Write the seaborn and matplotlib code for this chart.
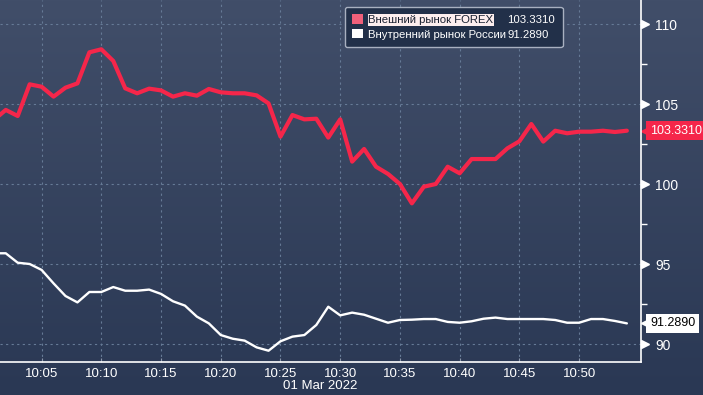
import numpy as np
import pandas as pd
import matplotlib
matplotlib.use('Agg')
import matplotlib.pyplot as plt
import matplotlib.dates as mdates
import matplotlib.transforms as mtransforms
from matplotlib.patches import Rectangle
from matplotlib.colors import LinearSegmentedColormap
import seaborn as sns

# minute stamps 10:01 .. 10:54, 01 Mar 2022
minutes = list(range(1, 55))
forex = [104.00, 104.63, 104.25, 106.23, 106.08, 105.46, 106.02, 106.29, 108.23, 108.42,
         107.69, 105.98, 105.67, 105.96, 105.85, 105.46, 105.67, 105.52, 105.94, 105.73,
         105.67, 105.67, 105.54, 105.04, 102.96, 104.31, 104.04, 104.08, 102.90, 104.04,
         101.40, 102.19, 101.08, 100.63, 100.00, 98.79, 99.83, 100.00, 101.08, 100.67,
         101.56, 101.56, 101.56, 102.23, 102.67, 103.75, 102.65, 103.33, 103.17, 103.27,
         103.27, 103.33, 103.25, 103.331]
russia = [95.67, 95.67, 95.08, 95.00, 94.63, 93.79, 93.00, 92.60, 93.25, 93.25,
          93.56, 93.33, 93.33, 93.40, 93.13, 92.67, 92.40, 91.71, 91.29, 90.56,
          90.33, 90.21, 89.79, 89.58, 90.17, 90.46, 90.56, 91.19, 92.33, 91.79,
          91.96, 91.83, 91.58, 91.33, 91.50, 91.52, 91.56, 91.56, 91.38, 91.33,
          91.42, 91.58, 91.65, 91.56, 91.56, 91.56, 91.56, 91.50, 91.33, 91.33,
          91.56, 91.56, 91.44, 91.289]
names = ['Внешний рынок FOREX', 'Внутренний рынок России']
last_labels = ['103.3310', '91.2890']
yticks = [90, 95, 100, 105, 110]

RED = '#f5264a'
GRID = '#667a96'
FONT = ['Liberation Sans', 'DejaVu Sans']

times = pd.Timestamp('2022-03-01 10:00') + pd.to_timedelta(minutes, unit='min')
data = pd.DataFrame({'time': times, 'forex': forex, 'russia': russia})

sns.set_style('dark')
plt.rcParams['font.family'] = FONT

fig = plt.figure(figsize=(7.03, 3.95), dpi=100)

# background gradient over whole figure
bg = fig.add_axes([0, 0, 1, 1], zorder=-5)
grad = np.linspace(0, 1, 256).reshape(-1, 1)
cmap = LinearSegmentedColormap.from_list('bg', ['#414e69', '#2a3854'])
bg.imshow(grad, aspect='auto', cmap=cmap, extent=[0, 1, 0, 1])
bg.axis('off')

ax = fig.add_axes([0, (395 - 362) / 395, 641 / 703, 362 / 395])
ax.set_facecolor('none')

sns.lineplot(data=data, x='time', y='forex', ax=ax, color=RED, linewidth=3.0, zorder=4)
sns.lineplot(data=data, x='time', y='russia', ax=ax, color='white', linewidth=1.7, zorder=4)

ax.set_xlim(pd.Timestamp('2022-03-01 10:01:31'), pd.Timestamp('2022-03-01 10:55:11'))
ax.set_ylim(88.875, 111.5)
ax.set_xlabel('')
ax.set_ylabel('')

# x axis
ax.xaxis.set_major_locator(mdates.MinuteLocator(byminute=range(5, 55, 5)))
ax.xaxis.set_major_formatter(mdates.DateFormatter('%H:%M'))
ax.tick_params(axis='x', direction='in', length=3, color='#8a96aa', labelcolor='white',
               labelsize=9.5, pad=4, bottom=True)

# y axis on the right
ax.yaxis.tick_right()
ax.set_yticks(yticks)
ax.set_yticks([92.5, 97.5, 102.5, 107.5], minor=True)
ax.tick_params(axis='y', which='major', length=0, labelcolor='white', labelsize=10, pad=10)
ax.tick_params(axis='y', which='minor', right=True, direction='out', length=4, width=1, color='white')
yt = mtransforms.blended_transform_factory(ax.transAxes, ax.transData)
tri_tr = mtransforms.offset_copy(yt, fig=fig, x=4, y=0, units='dots')
ax.plot([1] * len(yticks), yticks, linestyle='none', marker='>', markersize=6,
        color='white', transform=tri_tr, clip_on=False)

ax.grid(True, color=GRID, linestyle=(0, (2, 3)), linewidth=0.8)
for s in ['top', 'left']:
    ax.spines[s].set_visible(False)
for s in ['right', 'bottom']:
    ax.spines[s].set_visible(True)
    ax.spines[s].set_color('white')
    ax.spines[s].set_linewidth(1.2)

# last-value tags
tag_colors = [RED, 'white']
text_colors = ['white', 'black']
for val, lab, fc, tc in zip([forex[-1], russia[-1]], last_labels, tag_colors, text_colors):
    ax.annotate(lab, xy=(1, val), xycoords=yt, xytext=(9, 0), textcoords='offset pixels',
                ha='left', va='center', fontsize=9, color=tc, annotation_clip=False,
                bbox=dict(boxstyle='square,pad=0.3', fc=fc, ec='none'))
    ax.plot([1], [val], marker='<', markersize=9, color=fc, linestyle='none',
            transform=mtransforms.offset_copy(yt, fig=fig, x=6, y=0, units='dots'),
            clip_on=False)

fig.text(320 / 703, 1 - 386 / 395, '01 Mar 2022', ha='center', va='center', color='white',
         fontsize=9.5)

# legend: names in first column, last values in second
handles = [Rectangle((0, 0), 1, 1, fc='#f0607a', ec='none'),
           Rectangle((0, 0), 1, 1, fc='white', ec='none'),
           Rectangle((0, 0), 1, 1, fc='none', ec='none'),
           Rectangle((0, 0), 1, 1, fc='none', ec='none')]
leg = ax.legend(handles, names + last_labels, ncol=2, loc='upper left',
                bbox_to_anchor=(345 / 641, 1 - 7 / 362),
                borderaxespad=0, fontsize=8.2, frameon=True, fancybox=True,
                handlelength=0.9, handleheight=0.9, handletextpad=0.5, labelspacing=0.35,
                borderpad=0.65, columnspacing=-1.3)
leg.get_frame().set_facecolor('#223049')
leg.get_frame().set_edgecolor('#a8b0c0')
leg.get_frame().set_alpha(1)
leg.set_zorder(10)
texts = leg.get_texts()
for t in texts:
    t.set_color('white')
texts[0].set_color('#1a2030')
texts[0].set_bbox(dict(fc='#fdeeee', ec='none', pad=0.6))

fig.savefig('out.png', dpi=100, facecolor='#2a3854')
